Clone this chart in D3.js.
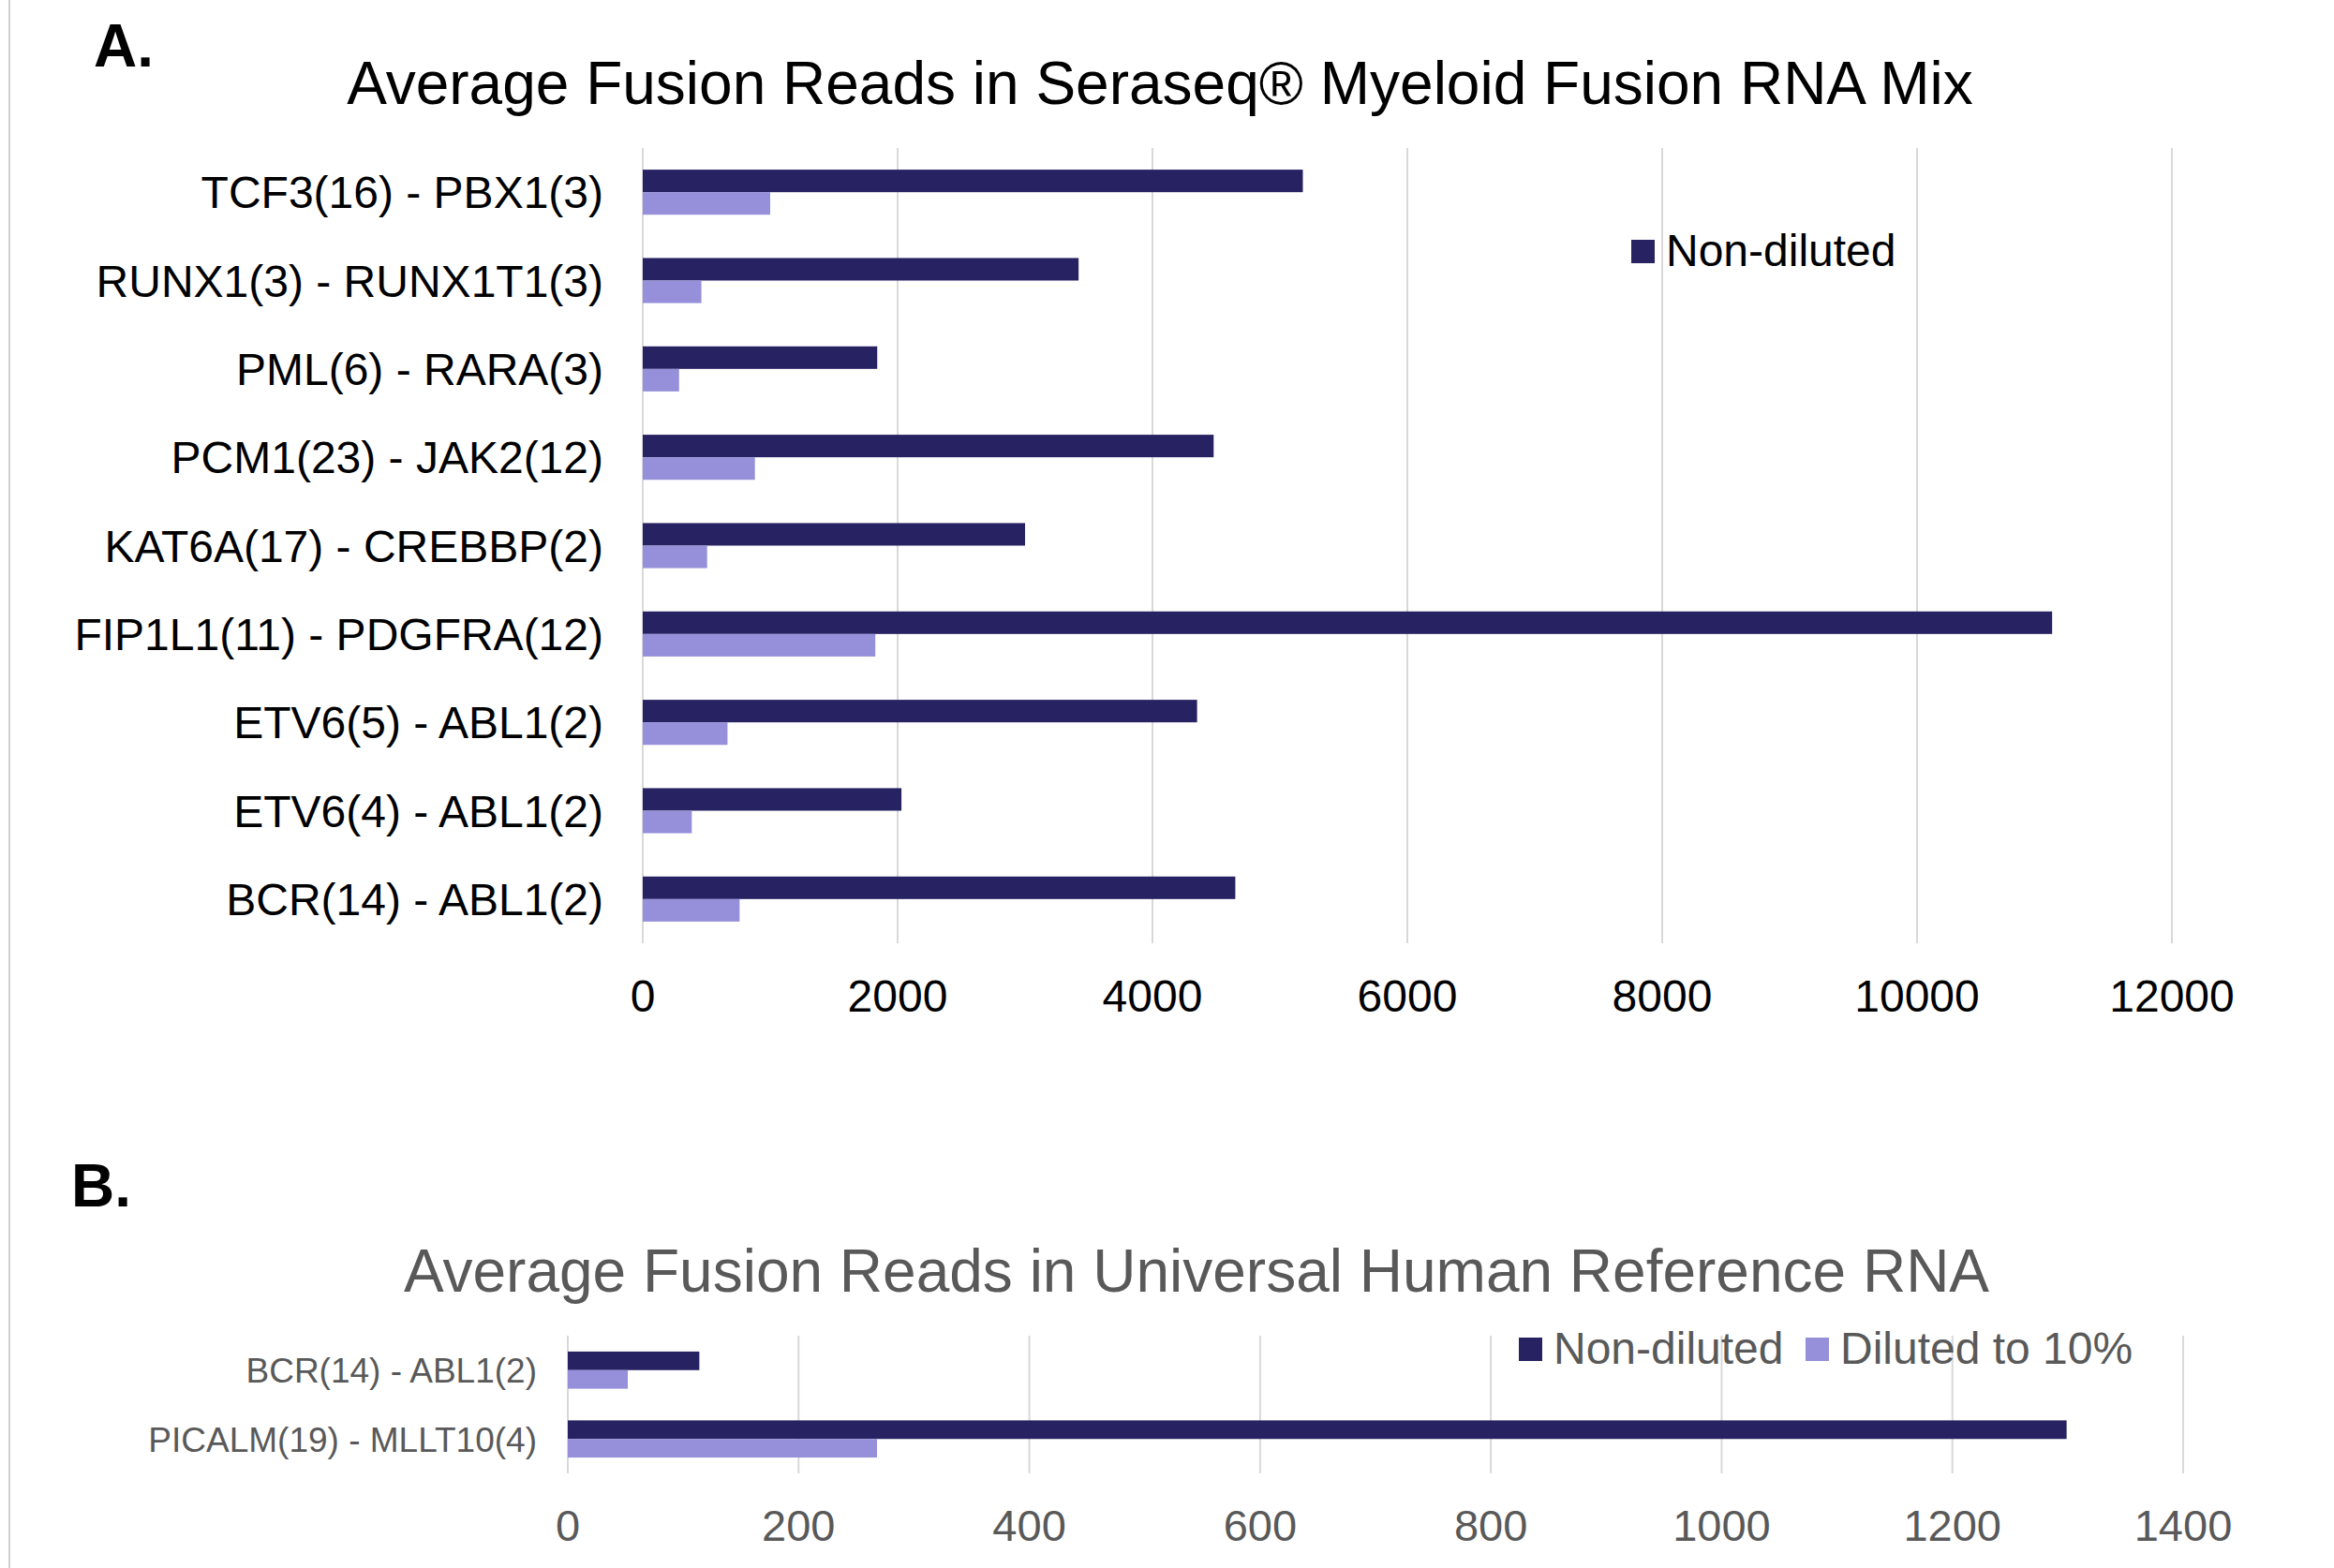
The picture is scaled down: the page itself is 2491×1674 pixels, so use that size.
<!DOCTYPE html>
<html>
<head>
<meta charset="utf-8">
<script src="https://cdn.jsdelivr.net/npm/d3@7"></script>
<style>
  body { margin: 0; background: #fff; }
  svg { display: block; font-family: "Liberation Sans", Arial, sans-serif; }
</style>
</head>
<body>
<div id="chart"></div>
<script>
// Panel A: Seraseq Myeloid Fusion RNA Mix
const fusionsA = ["TCF3(16) - PBX1(3)", "RUNX1(3) - RUNX1T1(3)", "PML(6) - RARA(3)",
  "PCM1(23) - JAK2(12)", "KAT6A(17) - CREBBP(2)", "FIP1L1(11) - PDGFRA(12)",
  "ETV6(5) - ABL1(2)", "ETV6(4) - ABL1(2)", "BCR(14) - ABL1(2)"];
const nonDilutedA = [5180, 3420, 1840, 4480, 3000, 11060, 4350, 2030, 4650];
const dilutedA = [1000, 460, 285, 880, 505, 1825, 665, 385, 760];
const ticksA = [0, 2000, 4000, 6000, 8000, 10000, 12000];

// Panel B: Universal Human Reference RNA
const fusionsB = ["BCR(14) - ABL1(2)", "PICALM(19) - MLLT10(4)"];
const nonDilutedB = [114, 1299];
const dilutedB = [52, 268];
const ticksB = [0, 200, 400, 600, 800, 1000, 1200, 1400];

const seriesNames = ["Non-diluted", "Diluted to 10%"];

const width = 2491, height = 1674;
const dark = "#272262", light = "#9590d9", grid = "#d9d9d9", grey = "#595959";

let svg = d3.select("#chart")
  .append("svg")
  .attr("width", width)
  .attr("height", height)
  .attr("viewBox", [0, 0, width, height]);

// faint frame line on the left
svg.append("line")
  .attr("x1", 10).attr("x2", 10)
  .attr("y1", 0).attr("y2", height)
  .attr("stroke", "#d0d0d0")
  .attr("stroke-width", 2);

function panel(opt) {
  const rows = opt.cats.map((c, i) => ({ cat: c, a: opt.a[i], b: opt.b[i] }));

  let x = d3.scaleLinear()
    .domain([0, d3.max(opt.ticks)])
    .range([opt.left, opt.right]);

  let y = d3.scaleBand()
    .domain(opt.cats)
    .range([opt.top, opt.bottom])
    .paddingInner(opt.pad)
    .paddingOuter(opt.pad / 2);

  let sub = d3.scaleBand()
    .domain(["a", "b"])
    .range([0, y.bandwidth()]);

  // gridlines
  svg.append("g")
    .selectAll("line")
    .data(opt.ticks)
    .join("line")
    .attr("x1", d => x(d)).attr("x2", d => x(d))
    .attr("y1", opt.top).attr("y2", opt.bottom)
    .attr("stroke", grid)
    .attr("stroke-width", 2);

  // tick labels
  svg.append("g")
    .selectAll("text")
    .data(opt.ticks)
    .join("text")
    .attr("x", d => x(d))
    .attr("y", opt.tickY)
    .attr("text-anchor", "middle")
    .attr("font-size", opt.tickSize)
    .attr("fill", opt.textColor)
    .text(d => d);

  // bars
  let bar = svg.append("g")
    .selectAll("g")
    .data(rows)
    .join("g")
    .attr("transform", d => `translate(0,${y(d.cat)})`);

  bar.append("rect")
    .attr("x", x(0))
    .attr("y", sub("a"))
    .attr("width", d => x(d.a) - x(0))
    .attr("height", sub.bandwidth())
    .attr("fill", dark);

  bar.append("rect")
    .attr("x", x(0))
    .attr("y", sub("b"))
    .attr("width", d => x(d.b) - x(0))
    .attr("height", sub.bandwidth())
    .attr("fill", light);

  // category labels
  svg.append("g")
    .selectAll("text")
    .data(opt.cats)
    .join("text")
    .attr("x", opt.labelX)
    .attr("y", d => y(d) + y.bandwidth() / 2)
    .attr("dy", "0.36em")
    .attr("text-anchor", "end")
    .attr("font-size", opt.labelSize)
    .attr("fill", opt.textColor)
    .text(d => d);

  // title
  svg.append("text")
    .attr("x", opt.titleX)
    .attr("y", opt.titleY)
    .attr("text-anchor", "middle")
    .attr("font-size", opt.titleSize)
    .attr("fill", opt.textColor)
    .text(opt.title);

  // panel letter
  svg.append("text")
    .attr("x", opt.letterX)
    .attr("y", opt.letterY)
    .attr("font-size", 64)
    .attr("font-weight", "bold")
    .attr("fill", "#000")
    .text(opt.letter);

  // legend
  let leg = svg.append("g")
    .selectAll("g")
    .data(opt.legend)
    .join("g")
    .attr("transform", d => `translate(${d.x},${opt.legendY})`);

  leg.append("rect")
    .attr("x", 0).attr("y", -28)
    .attr("width", 25).attr("height", 25)
    .attr("fill", d => d.color);

  leg.append("text")
    .attr("x", 37)
    .attr("y", 0)
    .attr("font-size", 48)
    .attr("fill", opt.textColor)
    .text(d => d.name);
}

panel({
  cats: fusionsA, a: nonDilutedA, b: dilutedA, ticks: ticksA,
  left: 686, right: 2318, top: 158, bottom: 1007, pad: 0.49,
  tickY: 1080, tickSize: 48, labelX: 644, labelSize: 48,
  textColor: "#000",
  title: "Average Fusion Reads in Seraseq\u00AE Myeloid Fusion RNA Mix",
  titleX: 1238, titleY: 111, titleSize: 64,
  letter: "A.", letterX: 100, letterY: 71,
  legendY: 284,
  legend: [{ name: seriesNames[0], color: dark, x: 1741 }]
});

panel({
  cats: fusionsB, a: nonDilutedB, b: dilutedB, ticks: ticksB,
  left: 606, right: 2330, top: 1426, bottom: 1573, pad: 0.46,
  tickY: 1645, tickSize: 47, labelX: 573, labelSize: 37,
  textColor: grey,
  title: "Average Fusion Reads in Universal Human Reference RNA",
  titleX: 1277, titleY: 1379, titleSize: 64,
  letter: "B.", letterX: 76, letterY: 1288,
  legendY: 1456,
  legend: [
    { name: seriesNames[0], color: dark, x: 1621 },
    { name: seriesNames[1], color: light, x: 1927 }
  ]
});
</script>
</body>
</html>
